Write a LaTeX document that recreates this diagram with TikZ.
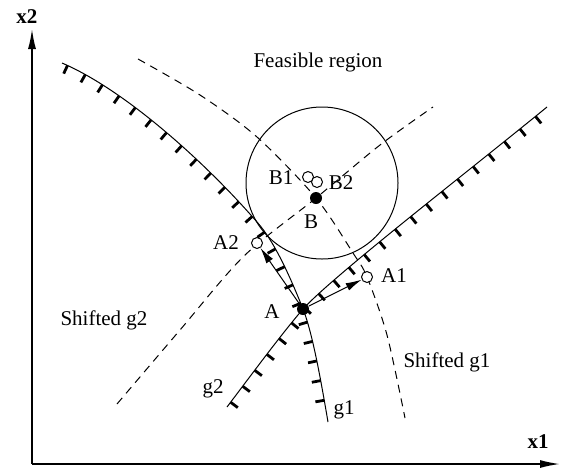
\documentclass[tikz,border=0pt]{standalone}
\usepackage{fontspec}
\setmainfont{Liberation Serif}
\usetikzlibrary{arrows.meta,decorations.markings}

\tikzset{
  hatched/.style={line width=0.5pt,postaction={decorate,decoration={markings,
      mark=between positions 3pt and 0.99 step 10pt with {\draw[line width=1.4pt] (0,0) -- (0,-4.5pt);}}}},
  shifted/.style={line width=0.5pt,dash pattern=on 4pt off 3pt},
  soliddot/.style={circle,fill,inner sep=0pt,minimum size=6pt},
  opendot/.style={circle,draw,fill=white,inner sep=0pt,minimum size=5.5pt,line width=0.5pt},
  vec/.style={line width=0.5pt,-{Latex[length=8pt,width=4pt]}},
  axis/.style={line width=0.8pt,-{Latex[length=10pt,width=4pt]}}
}

\begin{document}
\begin{tikzpicture}[x=0.5pt,y=-0.5pt,font=\fontsize{10.5}{12.6}\selectfont]
\useasboundingbox (0,0) rectangle (561,472);
% axes
\coordinate (O) at (32,464);
\coordinate (x1end) at (560,464);
\coordinate (x2end) at (32,29);
\draw[axis] (O) -- (x1end);
\draw[axis] (O) -- (x2end);
\node (x1) at (538,442) {\textbf{x1}};
\node (x2) at (27,17) {\textbf{x2}};
% shifted constraints
\draw[shifted] plot[smooth] coordinates {(138,59) (200,95) (257,137) (316,198) (353,253) (367,277) (387,335) (405,418)};
\draw[shifted] plot[smooth] coordinates {(117,404) (180,330) (244,256) (316,198) (380,145) (433,107)};
% trust circle
\draw[line width=0.5pt] (322,183) circle[radius=38pt];
% constraints g1 and g2
\draw[hatched] (62,63) .. controls (125,90) and (205,162) .. (257,222)
  .. controls (275,242) and (291,279) .. (303,309)
  .. controls (313,334) and (322,387) .. (328,422);
\draw[hatched] (227,407) .. controls (255,370) and (280,336) .. (303,309)
  .. controls (333,276) and (470,170) .. (547,107);
% points
\node[opendot] (A1) at (367,277) {};
\node[opendot] (A2) at (257,243) {};
\node[opendot] (B1) at (308,177) {};
\node[opendot] (B2) at (317,182) {};
\node[soliddot] (A) at (303,309) {};
\node[soliddot] (B) at (316,198) {};
\draw[vec] (A) -- (A1);
\draw[vec] (A) -- (A2);
% labels
\node (lA) at (272,312) {A};
\node (lA1) at (394,276) {A1};
\node (lA2) at (226,243) {A2};
\node (lB) at (311,222) {B};
\node (lB1) at (281,178) {B1};
\node (lB2) at (341,183) {B2};
\node (lg1) at (344,410) {g1};
\node (lg2) at (213,389) {g2};
\node (feas) at (318,62) {Feasible region};
\node (sg2) at (104,320) {Shifted g2};
\node (sg1) at (447,362) {Shifted g1};
\end{tikzpicture}
\end{document}
